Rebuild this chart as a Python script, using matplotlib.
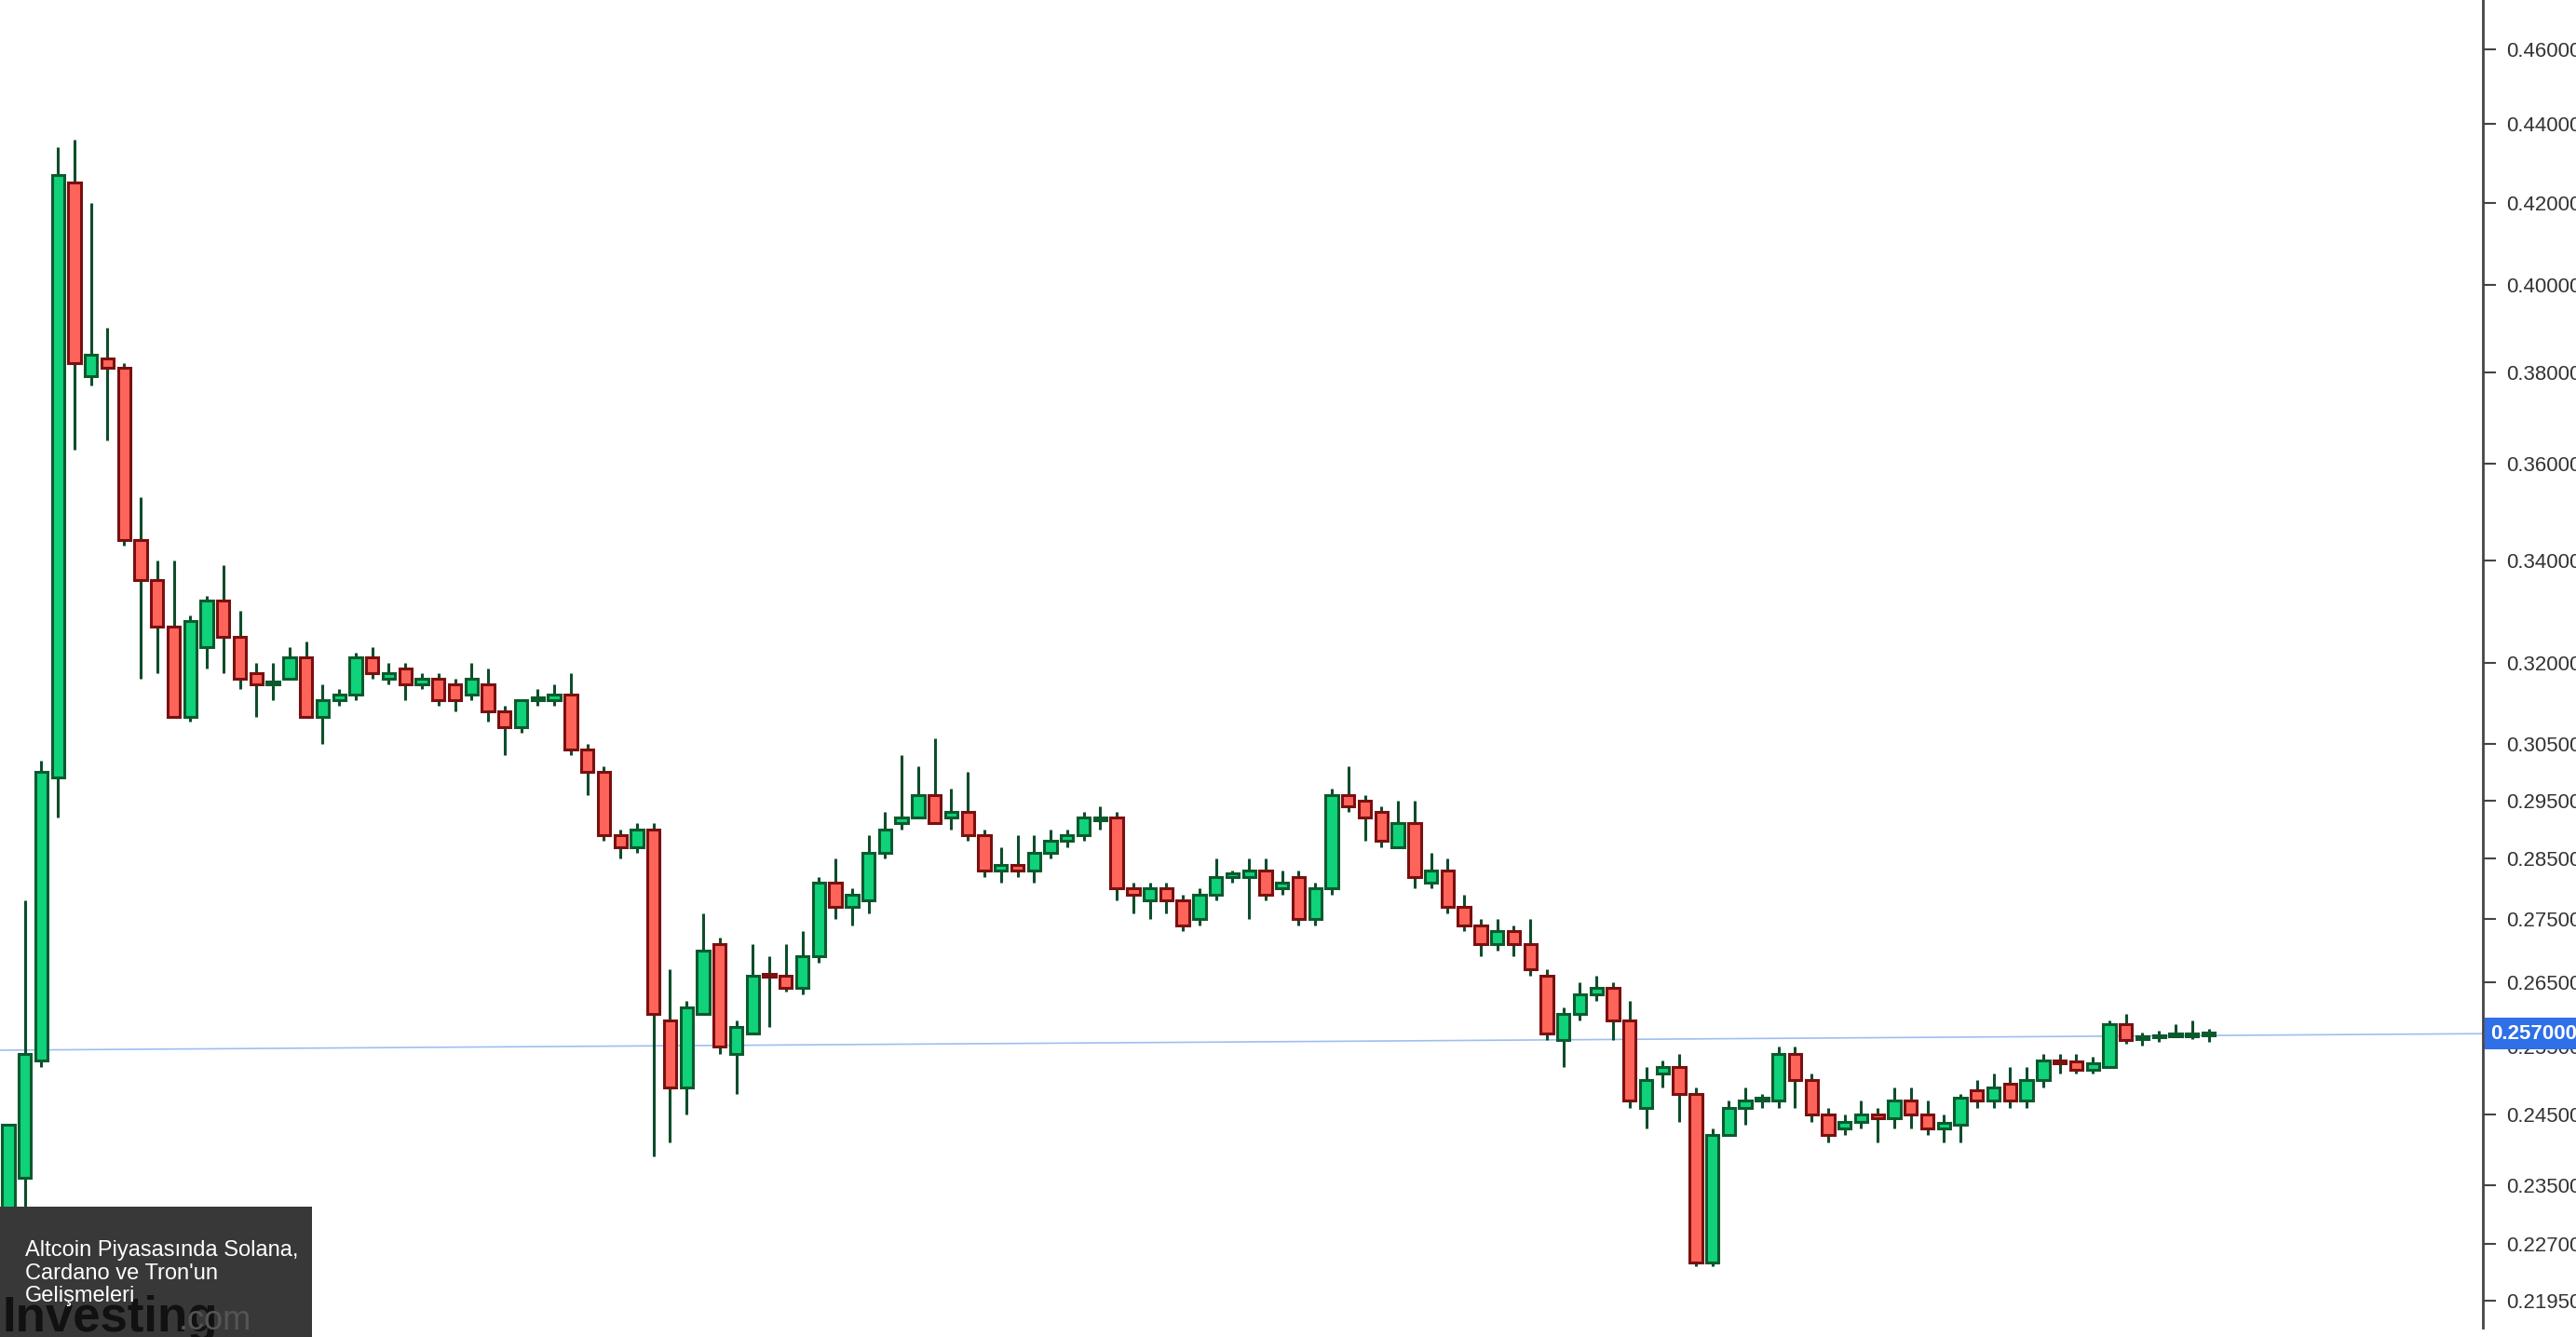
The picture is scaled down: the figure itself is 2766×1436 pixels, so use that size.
import matplotlib
matplotlib.use("Agg")
import matplotlib.pyplot as plt
from matplotlib.ticker import FixedLocator, NullLocator
import numpy as np

opens = [0.225,0.236,0.253,0.299,0.425,0.379,0.383,0.381,0.344,0.336,0.327,0.310,0.323,0.332,0.325,0.318,0.316,0.317,0.321,0.310,
         0.313,0.314,0.321,0.317,0.319,0.316,0.317,0.316,0.314,0.316,0.311,0.308,0.313,0.313,0.314,0.304,0.300,0.289,0.287,0.290,
         0.259,0.249,0.260,0.271,0.254,0.257,0.266,0.266,0.264,0.269,0.281,0.277,0.278,0.286,0.291,0.292,0.296,0.292,0.293,0.289,
         0.283,0.284,0.283,0.286,0.288,0.289,0.2915,0.292,0.280,0.278,0.280,0.278,0.275,0.279,0.282,0.282,0.283,0.280,0.282,0.275,
         0.280,0.296,0.295,0.293,0.287,0.291,0.281,0.283,0.277,0.274,0.271,0.273,0.271,0.266,0.256,0.260,0.263,0.264,0.259,0.246,
         0.251,0.252,0.248,0.2245,0.242,0.246,0.247,0.247,0.254,0.250,0.245,0.243,0.244,0.245,0.2445,0.247,0.245,0.243,0.2435,0.2485,
         0.247,0.2495,0.247,0.250,0.253,0.2528,0.2515,0.252,0.2585,0.2562,0.2564,0.2566,0.2566,0.2567]
highs = [0.237,0.278,0.302,0.434,0.436,0.420,0.390,0.382,0.353,0.340,0.340,0.329,0.333,0.339,0.330,0.320,0.320,0.323,0.324,0.316,
         0.315,0.322,0.323,0.320,0.320,0.318,0.318,0.317,0.320,0.319,0.312,0.313,0.315,0.316,0.318,0.305,0.301,0.290,0.291,0.291,
         0.267,0.262,0.276,0.272,0.259,0.271,0.269,0.271,0.273,0.282,0.285,0.280,0.289,0.293,0.303,0.301,0.306,0.297,0.300,0.290,
         0.287,0.289,0.289,0.290,0.290,0.293,0.294,0.293,0.281,0.281,0.281,0.279,0.280,0.285,0.283,0.285,0.285,0.283,0.283,0.281,
         0.297,0.301,0.296,0.294,0.295,0.295,0.286,0.285,0.279,0.275,0.275,0.274,0.275,0.267,0.261,0.265,0.266,0.265,0.262,0.252,
         0.253,0.254,0.249,0.243,0.247,0.249,0.248,0.255,0.255,0.251,0.246,0.245,0.247,0.246,0.249,0.249,0.247,0.245,0.248,0.250,
         0.251,0.252,0.252,0.254,0.254,0.254,0.2535,0.259,0.260,0.2572,0.2575,0.2585,0.2590,0.2578]
lows = [0.222,0.230,0.252,0.292,0.363,0.377,0.365,0.343,0.317,0.318,0.310,0.309,0.319,0.318,0.315,0.310,0.313,0.317,0.310,0.305,
        0.312,0.313,0.317,0.316,0.313,0.315,0.312,0.311,0.313,0.309,0.303,0.307,0.312,0.312,0.303,0.296,0.288,0.285,0.286,0.239,
        0.241,0.245,0.260,0.254,0.248,0.257,0.258,0.2635,0.263,0.268,0.275,0.274,0.276,0.285,0.290,0.292,0.291,0.290,0.288,0.282,
        0.281,0.282,0.281,0.285,0.287,0.288,0.290,0.278,0.276,0.275,0.276,0.273,0.274,0.278,0.281,0.275,0.278,0.279,0.274,0.274,
        0.279,0.293,0.288,0.287,0.287,0.280,0.280,0.276,0.273,0.269,0.270,0.269,0.266,0.256,0.252,0.259,0.262,0.256,0.246,0.243,
        0.249,0.244,0.224,0.224,0.242,0.2435,0.246,0.246,0.246,0.244,0.241,0.242,0.243,0.241,0.243,0.243,0.242,0.241,0.241,0.246,
        0.246,0.246,0.246,0.249,0.251,0.251,0.251,0.252,0.2555,0.2552,0.2558,0.2564,0.2562,0.2558]
closes = [0.2435,0.254,0.300,0.427,0.382,0.384,0.381,0.344,0.336,0.327,0.310,0.328,0.332,0.325,0.317,0.316,0.3165,0.321,0.310,0.313,
          0.314,0.321,0.318,0.318,0.316,0.317,0.313,0.313,0.317,0.311,0.308,0.313,0.3135,0.314,0.304,0.300,0.289,0.287,0.290,0.260,
          0.249,0.261,0.270,0.255,0.258,0.266,0.2658,0.264,0.269,0.281,0.277,0.279,0.286,0.290,0.292,0.296,0.291,0.293,0.289,0.283,
          0.284,0.283,0.286,0.288,0.289,0.292,0.292,0.280,0.279,0.280,0.278,0.274,0.279,0.282,0.2825,0.283,0.279,0.281,0.275,0.280,
          0.296,0.294,0.292,0.288,0.291,0.282,0.283,0.277,0.274,0.271,0.273,0.271,0.267,0.257,0.260,0.263,0.264,0.259,0.247,0.250,
          0.252,0.248,0.2245,0.242,0.246,0.247,0.2472,0.254,0.250,0.245,0.242,0.244,0.245,0.2445,0.247,0.245,0.243,0.2438,0.2475,0.247,
          0.249,0.247,0.250,0.253,0.2525,0.2515,0.2525,0.2585,0.256,0.2565,0.2566,0.2567,0.2567,0.2570]

yticks = [0.2195,0.227,0.235,0.245,0.255,0.265,0.275,0.285,0.295,0.305,0.32,0.34,0.36,0.38,0.40,0.42,0.44,0.46]
last_price = 0.257
title = "Altcoin Piyasasında Solana,\nCardano ve Tron'un\nGelişmeleri"

n = min(len(opens), len(highs), len(lows), len(closes))
o = np.array(opens[:n]); h = np.array(highs[:n]); l = np.array(lows[:n]); c = np.array(closes[:n])
x = np.arange(n)

fig = plt.figure(figsize=(27.66, 14.36), dpi=100)
ax = fig.add_axes([0.0, 0.007, 0.964, 0.993])
ax.set_yscale('log')
up = c >= o
gc, rc = '#0fd27a', '#ff645a'
ge, re = '#0b5a2e', '#7a1010'
ax.vlines(x, l, h, color='#0d4d2a', lw=2.2, zorder=1)
bottoms = np.minimum(o, c)
heights = np.maximum(np.abs(c - o), 0.0004)
ax.bar(x[up], heights[up], bottom=bottoms[up], width=0.75, color=gc, edgecolor=ge, lw=2.2, zorder=2)
ax.bar(x[~up], heights[~up], bottom=bottoms[~up], width=0.75, color=rc, edgecolor=re, lw=2.2, zorder=2)

ax.set_xlim(-0.5, 149.6)
ax.set_ylim(0.216, 0.4735)
ax.plot([-0.5, 149.6], [0.2545, last_price], color='#9fbff0', lw=1.2, zorder=0)

for s in ['top', 'left', 'bottom']:
    ax.spines[s].set_visible(False)
ax.spines['right'].set_color('#444444'); ax.spines['right'].set_linewidth(2)
ax.xaxis.set_major_locator(NullLocator())
ax.yaxis.tick_right()
ax.yaxis.set_major_locator(FixedLocator(yticks))
ax.yaxis.set_minor_locator(NullLocator())
ax.set_yticklabels([f"{v:.6f}" for v in yticks], family='Liberation Sans')
ax.tick_params(axis='y', length=10, width=1.5, color='#444444', labelsize=16, labelcolor='#333333', pad=8)

ax.text(1.003, last_price, f"{last_price:.6f}", transform=ax.get_yaxis_transform(), fontsize=16,
        color='white', fontweight='bold', va='center', ha='left', family='Liberation Sans',
        bbox=dict(boxstyle='square,pad=0.3', fc='#2f6fe8', ec='none'), zorder=10, clip_on=False)

fig.patches.append(plt.Rectangle((0, 0), 335/2766, 140/1436, transform=fig.transFigure,
                                 facecolor='#383838', edgecolor='none', zorder=5))
fig.text(2/2766, 6/1436, "Investing", fontsize=38, fontweight='bold', color='#111111', zorder=6,
         family='Liberation Sans')
fig.text(192/2766, 8/1436, ".com", fontsize=26, color='#555555', zorder=6, family='Liberation Sans')
fig.text(27/2766, 104/1436, title, fontsize=17, color='white', va='top', ha='left',
         linespacing=1.15, zorder=7, family='Liberation Sans')

fig.savefig('out.png', dpi=100, facecolor='white')
